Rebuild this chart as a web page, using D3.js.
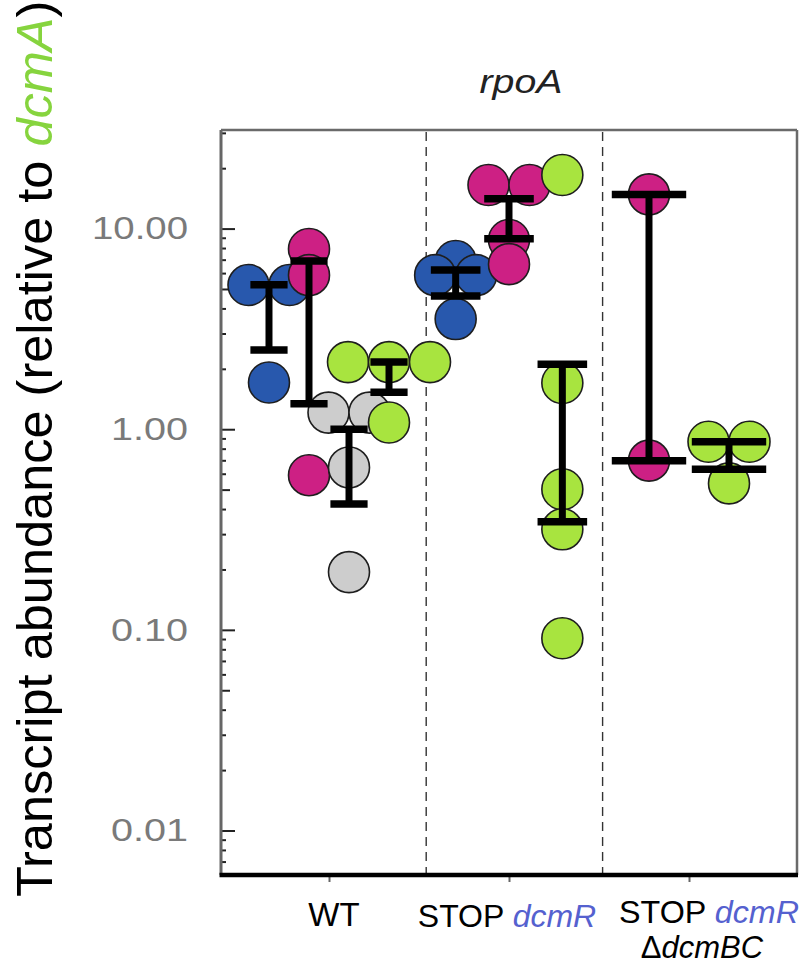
<!DOCTYPE html>
<html>
<head>
<meta charset="utf-8">
<script src="https://cdn.jsdelivr.net/npm/d3@7"></script>
<style>
  html, body { margin: 0; padding: 0; background: #fff; }
  svg { display: block; font-family: "Liberation Sans", Arial, Helvetica, sans-serif; }
</style>
</head>
<body>
<svg id="chart" width="807" height="965"></svg>
<script>
// ---------------- DATA ----------------
const groups = ["WT", "STOPdcmR", "STOPdcmR ΔdcmBC"];
const seriesKeys = ["blue", "magenta", "grey", "green"];

// individual values (transcript abundance relative to dcmA)
const wtBlue      = [5.23, 5.23, 1.71];
const wtMagenta   = [7.91, 5.86, 0.59];
const wtGrey      = [1.21, 1.21, 0.645, 0.194];
const wtGreen     = [2.16, 2.16, 2.16, 1.08];
const stopBlue    = [6.89, 5.86, 5.86, 3.54];
const stopMagenta = [16.5, 16.5, 8.77, 6.65];
const stopGreen   = [18.5, 1.70, 0.502, 0.317, 0.0908];
const delMagenta  = [14.8, 0.697];
const delGreen    = [0.866, 0.866, 0.537];

// error bar limits (low / high), series order as in seriesKeys (present only)
const wtBarLow    = [2.48, 1.34, 0.424, 1.53];
const wtBarHigh   = [5.25, 6.89, 1.00, 2.16];
const stopBarLow  = [4.61, 8.90, 0.346];
const stopBarHigh = [6.21, 14.07, 2.11];
const delBarLow   = [0.697, 0.631];
const delBarHigh  = [14.8, 0.866];

const yTickValues = [0.01, 0.1, 1, 10];
const separators = [0.54, 1.52];

// ---------------- TABLE ----------------
const table = [
  { group: 0, series: ["blue", "magenta", "grey", "green"],
    values: [wtBlue, wtMagenta, wtGrey, wtGreen], low: wtBarLow, high: wtBarHigh },
  { group: 1, series: ["blue", "magenta", "green"],
    values: [stopBlue, stopMagenta, stopGreen], low: stopBarLow, high: stopBarHigh },
  { group: 2, series: ["magenta", "green"],
    values: [delMagenta, delGreen], low: delBarLow, high: delBarHigh }
];

// ---------------- STYLE ----------------
const colors = { blue: "#2858ad", magenta: "#cd2084", grey: "#cdcdcd", green: "#a8e43f" };
const R = 20.5;

const svg = d3.select("#chart");
const pL = 221, pR = 797, pT = 130, pB = 875;

const x = d3.scaleLinear().domain([-0.6, 2.6]).range([pL, pR]);
const y = d3.scaleLog().domain([0.006, 31]).range([pB, pT]);
const groupHalf = 0.4445; // half group width in x units

// frame (top & right, grey)
svg.append("line").attr("x1", pL).attr("x2", pR).attr("y1", pT).attr("y2", pT)
  .attr("stroke", "#6a6a6a").attr("stroke-width", 2.5);
svg.append("line").attr("x1", pR).attr("x2", pR).attr("y1", pT).attr("y2", pB)
  .attr("stroke", "#6a6a6a").attr("stroke-width", 2.5);

// separators
svg.selectAll("line.sep").data(separators).join("line").attr("class", "sep")
  .attr("x1", d => x(d)).attr("x2", d => x(d)).attr("y1", pT + 2).attr("y2", pB)
  .attr("stroke", "#333").attr("stroke-width", 1.4).attr("stroke-dasharray", "9,6");

// y axis: minor ticks
const minor = [], mid = [];
[0.001, 0.01, 0.1, 1, 10].forEach(dec => {
  for (let k = 2; k <= 9; k++) {
    const v = k * dec;
    if (v < 0.006 || v > 31) continue;
    (k === 5 ? mid : minor).push(v);
  }
});
const gMinor = svg.append("g").attr("transform", `translate(${pL},0)`)
  .call(d3.axisLeft(y).tickValues(minor).tickSize(-5).tickFormat(""));
const gMid = svg.append("g").attr("transform", `translate(${pL},0)`)
  .call(d3.axisLeft(y).tickValues(mid).tickSize(-9).tickFormat(""));
const gMajor = svg.append("g").attr("transform", `translate(${pL},0)`)
  .call(d3.axisLeft(y).tickValues(yTickValues).tickSize(-14).tickPadding(33).tickFormat(d3.format(".2f")));
[gMinor, gMid, gMajor].forEach(g => {
  g.select(".domain").remove();
  g.selectAll(".tick line").attr("stroke", "#222").attr("stroke-width", 2);
});
gMajor.selectAll(".tick text")
  .attr("fill", "#7a7a7a").attr("font-size", 32).attr("font-family", "Liberation Sans, Arial, sans-serif")
  .attr("textLength", d => d >= 10 ? 96 : 77).attr("lengthAdjust", "spacingAndGlyphs");

// left axis line
svg.append("line").attr("x1", pL).attr("x2", pL).attr("y1", pT).attr("y2", pB)
  .attr("stroke", "#666").attr("stroke-width", 3);

// x axis
const gx = svg.append("g").attr("transform", `translate(0,${pB})`)
  .call(d3.axisBottom(x).tickValues([0, 1, 2]).tickSize(7).tickFormat(""));
gx.select(".domain").remove();
gx.selectAll(".tick line").attr("stroke", "#666").attr("stroke-width", 2);
svg.append("line").attr("x1", pL - 1.5).attr("x2", pR + 1).attr("y1", pB).attr("y2", pB)
  .attr("stroke", "#000").attr("stroke-width", 4.5);

// points and bars
const pts = [], bars = [];
table.forEach(row => {
  const inner = d3.scaleBand().domain(row.series)
    .range([row.group - groupHalf, row.group + groupHalf]).padding(0);
  row.series.forEach((s, i) => {
    const cx = inner(s) + inner.bandwidth() / 2;
    const vals = row.values[i];
    // spread identical values side by side
    const counts = d3.group(vals.map((v, j) => ({ v, j })), d => d.v);
    counts.forEach(list => {
      list.forEach((d, k) => {
        pts.push({ s, v: d.v, cx, off: (k - (list.length - 1) / 2) * 2 * R });
      });
    });
    const capW = (x(inner.bandwidth()) - x(0)) * 0.93;
    bars.push({ cx, lo: row.low[i], hi: row.high[i], capW });
  });
});

svg.append("g").selectAll("circle").data(pts).join("circle")
  .attr("cx", d => x(d.cx) + d.off)
  .attr("cy", d => y(d.v))
  .attr("r", R)
  .attr("fill", d => colors[d.s])
  .attr("stroke", "#1e1e1e").attr("stroke-width", 1.6);

const gb = svg.append("g");
bars.forEach(b => {
  const bx = x(b.cx);
  gb.append("line").attr("x1", bx).attr("x2", bx).attr("y1", y(b.hi)).attr("y2", y(b.lo))
    .attr("stroke", "#000").attr("stroke-width", 7);
  [b.hi, b.lo].forEach(v => {
    gb.append("line").attr("x1", bx - b.capW / 2).attr("x2", bx + b.capW / 2)
      .attr("y1", y(v)).attr("y2", y(v)).attr("stroke", "#000").attr("stroke-width", 7.5);
  });
});

// title
svg.append("text").attr("x", 521).attr("y", 93).attr("text-anchor", "middle")
  .attr("font-size", 34).attr("font-style", "italic").attr("fill", "#222")
  .attr("textLength", 83).attr("lengthAdjust", "spacingAndGlyphs").text("rpoA");

// y title
const yt = svg.append("text").attr("transform", "translate(52,897) rotate(-90)")
  .attr("font-size", 50.5).attr("fill", "#000");
yt.append("tspan").text("Transcript abundance (relative to ");
yt.append("tspan").attr("font-style", "italic").attr("fill", "#86d43e").text("dcmA");
yt.append("tspan").text(")");

// x labels
const fs = 32;
svg.append("text").attr("x", x(0) + 5).attr("y", 926).attr("text-anchor", "middle")
  .attr("font-size", fs + 1).text(groups[0]);
const l2 = svg.append("text").attr("x", x(1) - 2).attr("y", 927).attr("text-anchor", "middle")
  .attr("font-size", fs);
l2.append("tspan").text("STOP ");
l2.append("tspan").attr("font-style", "italic").attr("fill", "#5561cf").text("dcmR");
const l3 = svg.append("text").attr("x", x(2) + 20).attr("y", 923).attr("text-anchor", "middle")
  .attr("font-size", 31).attr("textLength", 180).attr("lengthAdjust", "spacingAndGlyphs");
l3.append("tspan").text("STOP ");
l3.append("tspan").attr("font-style", "italic").attr("fill", "#5561cf").text("dcmR");
const l4 = svg.append("text").attr("x", x(2) + 13).attr("y", 958).attr("text-anchor", "middle")
  .attr("font-size", 31);
l4.append("tspan").text("Δ");
l4.append("tspan").attr("font-style", "italic").text("dcmBC");
</script>
</body>
</html>
